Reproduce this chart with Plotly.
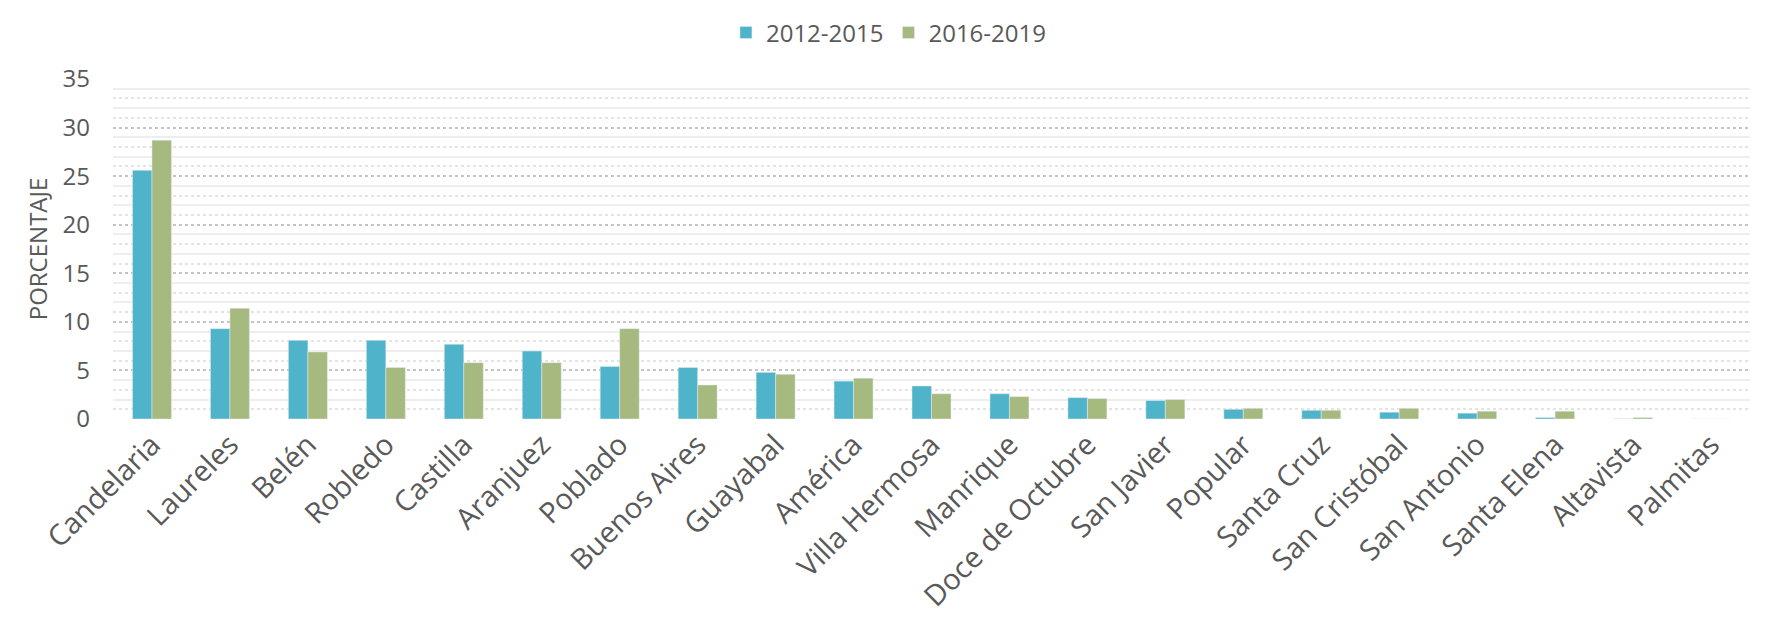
import plotly.graph_objects as go

comunas = [
    "Candelaria", "Laureles", "Belén", "Robledo", "Castilla", "Aranjuez",
    "Poblado", "Buenos Aires", "Guayabal", "América", "Villa Hermosa",
    "Manrique", "Doce de Octubre", "San Javier", "Popular", "Santa Cruz",
    "San Cristóbal", "San Antonio", "Santa Elena", "Altavista", "Palmitas",
]
p_2012_2015 = [25.6, 9.3, 8.1, 8.1, 7.7, 7.0, 5.4, 5.3, 4.8, 3.9, 3.4,
               2.6, 2.2, 1.9, 1.0, 0.9, 0.7, 0.6, 0.15, 0.02, 0.0]
p_2016_2019 = [28.7, 11.4, 6.9, 5.3, 5.8, 5.8, 9.3, 3.5, 4.6, 4.2, 2.6,
               2.3, 2.1, 2.0, 1.1, 0.9, 1.1, 0.8, 0.8, 0.15, 0.0]

FONT = "Open Sans"
TXT = "#595959"

fig = go.Figure()
fig.add_bar(x=comunas, y=p_2012_2015, name="2012-2015", marker_color="#4FB3C9")
fig.add_bar(x=comunas, y=p_2016_2019, name="2016-2019", marker_color="#A6B97E")

# faint minor lines: solid and dotted alternating between the major ones
solid_vals = [m + k for m in range(0, 35, 5) for k in (2, 4)]
dot_vals = [m + k for m in range(0, 35, 5) for k in (1, 3)]

# invisible trace so the second (grid only) y axis gets drawn
fig.add_scatter(x=[comunas[0]], y=[0], yaxis="y2", showlegend=False,
                hoverinfo="skip", marker=dict(opacity=0, size=1), mode="markers")

# margins account for the 8px default body margin of the html page
fig.update_layout(
    width=1774, height=623,
    margin=dict(l=105, r=32, t=71, b=212),
    paper_bgcolor="white", plot_bgcolor="white",
    font=dict(family=FONT, size=24, color=TXT),
    barmode="group", bargap=0.5, bargroupgap=0,
    legend=dict(orientation="h", x=0.474, xanchor="center",
                yref="container", y=0.96, yanchor="middle",
                font=dict(size=24, color=TXT),
                itemwidth=30, traceorder="normal"),
    xaxis=dict(tickangle=-45, showgrid=False, showline=False,
               range=[-0.5, len(comunas) - 0.5],
               automargin=False, ticklabelstandoff=2,
               tickfont=dict(size=29, color=TXT), ticks=""),
    yaxis=dict(range=[0, 35], dtick=5, showline=False, zeroline=False,
               automargin=False,
               gridcolor="#c4c4c4", griddash="dot", gridwidth=1.5,
               ticks="", ticklabelstandoff=22,
               minor=dict(tickmode="array", tickvals=dot_vals,
                          showgrid=True, gridcolor="#e4e4e4",
                          griddash="dot", gridwidth=1.5),
               title=dict(text="PORCENTAJE", standoff=8,
                          font=dict(size=24, color=TXT))),
    yaxis2=dict(range=[0, 35], overlaying="y", tickmode="array",
                tickvals=solid_vals, showticklabels=False, showgrid=True,
                gridcolor="#eeeeee", gridwidth=2, zeroline=False,
                automargin=False, ticks="", layer="below traces"),
)

fig.write_html("out.html")
